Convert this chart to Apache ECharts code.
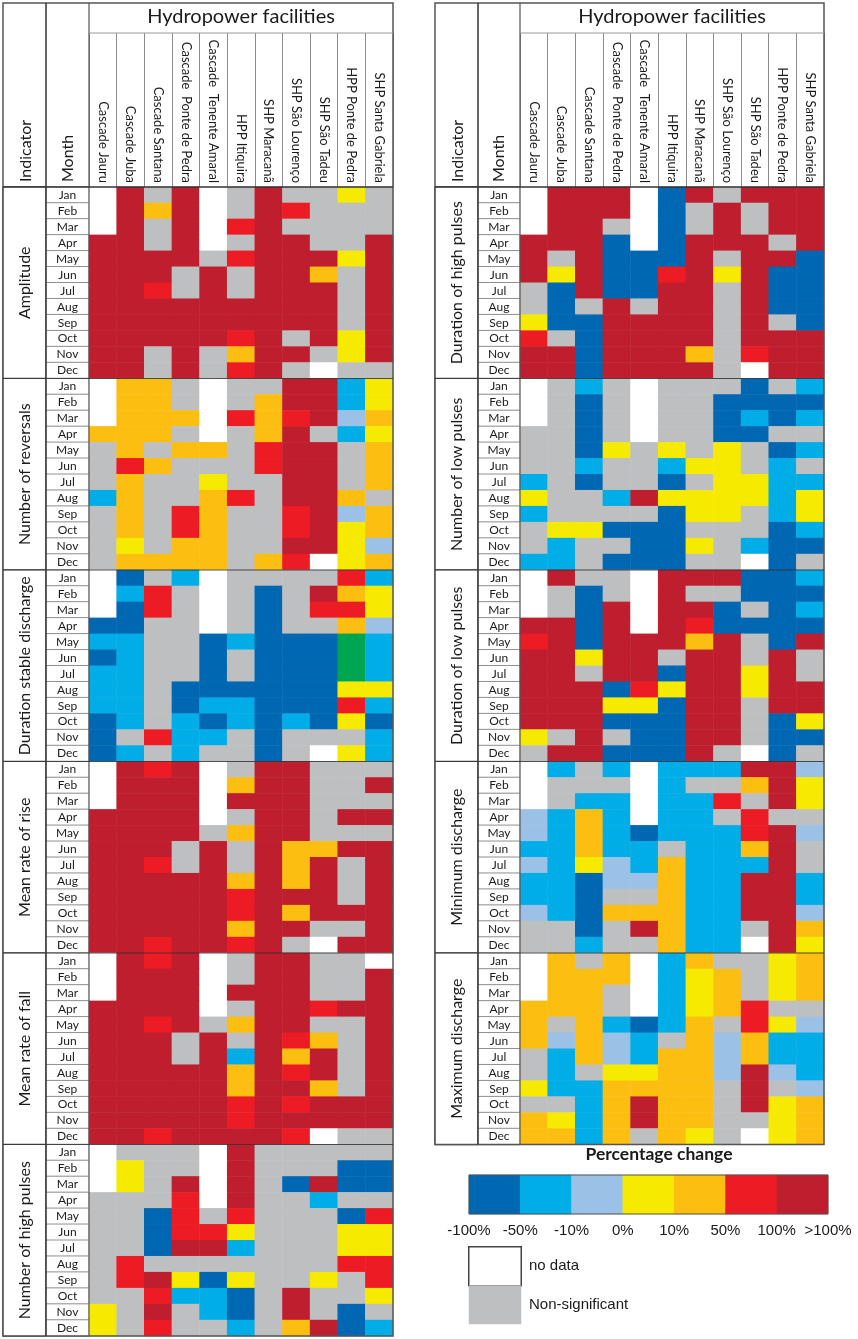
<!DOCTYPE html>
<html>
<head>
<meta charset="utf-8">
<title>Hydropower facilities - percentage change</title>
<script src="https://cdn.jsdelivr.net/npm/echarts@6/dist/echarts.min.js"></script>
<style>
  html, body { margin: 0; padding: 0; background: #fff; }
  #chart { width: 858px; height: 1339px; }
</style>
</head>
<body>
<div id="chart"></div>
<script>
var facilities = ['Cascade Jauru', 'Cascade Juba', 'Cascade Santana', 'Cascade  Ponte de Pedra',
  'Cascade  Tenente Amaral', 'HPP Itiquira', 'SHP Maracanã', 'SHP São Lourenço', 'SHP São Tadeu',
  'HPP Ponte de Pedra', 'SHP Santa Gabriela'];
var months = ['Jan', 'Feb', 'Mar', 'Apr', 'May', 'Jun', 'Jul', 'Aug', 'Sep', 'Oct', 'Nov', 'Dec'];

// one string per month, one letter per facility
// D=-100% B=-50% P=-10% Y=0% O=10% R=50% K=>100% W=no data G=non-significant N=green
var amplitude = ['WKGKWGKGGYG', 'WKOKWGKRGGG', 'WKGKWRKGGGG', 'KKGKWGKKGGK', 'KKKKGRKKKYK', 'KKKGKGKKOGK',
  'KKRGKGKKKGK', 'KKKKKKKKKGK', 'KKKKKKKKKGK', 'KKKKKRKGKYK', 'KKGKGOKKGYK', 'KKGKGRKGWGG'];
var reversals = ['WOOGWGGKKBY', 'WOOGWGOKKBY', 'WOOOWRORKPO', 'OOOGWGOKGBY', 'GOGOOGRKKGO', 'GROGGGRKKGO',
  'GOGGYGGKKGO', 'BOGGORGKKOG', 'GOGROGGRKPO', 'GOGROGGRKYO', 'GYGOOGGKKYP', 'GOOOOGORWYO'];
var stableDuration = ['WDGBWGGGGRB', 'WBRGWGDGKOY', 'WDRGWGDGRRY', 'DDGGWGDGGOP', 'BBGGDBDDDNB', 'DBGGDGDDDNB',
  'BBGGDGDDDNB', 'BBGDDDDDDYY', 'BBGDBBDDDRB', 'DBGBDBDBDYD', 'DGRBBGDGGGB', 'DBGBGGDGWYB'];
var riseRate = ['WKRKWGKKGGG', 'WKKKWOKKGGK', 'WKKKWKKKGGG', 'KKKKWGKKGKK', 'KKKKGOKKGGG', 'KKKGKGKOOKK',
  'KKRGKGKOKGK', 'KKKKKOKOKGK', 'KKKKKRKKKGK', 'KKKKKRKOKKK', 'KKKKKOKKGGK', 'KKRKKRKGWKK'];
var fallRate = ['WKRKWGKKGGW', 'WKKKWGKKGGK', 'WKKKWKKKGGK', 'KKKKWGKKRKK', 'KKRKGOKKGGK', 'KKKGKGKROGK',
  'KKKGKBKOKGK', 'KKKKKOKRKGK', 'KKKKKOKKOGK', 'KKKKKRKRKKK', 'KKKKKRKKKKK', 'KKRKKKKRWGG'];
var highPulseCount = ['WGGGWKGGGGG', 'WYGGWKGGGDD', 'WYGKWKGDKDD', 'GGGRWKGGBGG', 'GGDRGRGGGDR', 'GGDRRYGGGYY',
  'GGDKKBGGGYY', 'GRGGGGGGGRR', 'GRKYDYGGYGR', 'GGRBBDGKGGY', 'YGKGBDGKGDG', 'YGRGGBGOKDB'];

var highPulseDuration = ['WKKKWDKGKKK', 'WKKKWDGKGKK', 'WKKGWDGKGKK', 'KKKDWDKKKGK', 'KGKDDDKGKKD', 'KYKDDRKYKDD',
  'GDKDDKKGKDD', 'GDGKGKKGKDD', 'YDDKKKKGKGD', 'RGDKKKKGKKK', 'KKDKKKOGRKK', 'KKDKKKKGWKK'];
var lowPulseCount = ['WGBGWGGGDGB', 'WGDGWGGDDDD', 'WGDGWGGDBDB', 'GGDGWGGDDGG', 'GGDYGYGYGDB', 'GGBGGBYYGBG',
  'BGDGGDGYYBB', 'YGGBKYYYYBY', 'BGGGGDYYGBY', 'GYYDDDGGGDB', 'GBGGDDYGBDD', 'BBGDDDGGWDG'];
var lowPulseDuration = ['WKGGWKKKDDB', 'WGDGWKGGDDD', 'WGDKWKKDGDB', 'KKDKWKRDDDD', 'RKDKKKOKGDK', 'KKYKKGKKGKG',
  'KKGKKDKKYKG', 'KKKDRYKKYKK', 'KKKYYDKKGKK', 'KKKDDDKKGDY', 'YGKGDDKKGDD', 'GKKDDDKGWDG'];
var minDischarge = ['WBGBWBBBKKP', 'WGGGWBGGOKY', 'WGBBWBBRGKY', 'PBOBWBBGRGG', 'PBOBDBBBRKP', 'BBOBBGBBOKG',
  'PBYPBOBBBKG', 'BBDPPOBBKKB', 'BBDGGOBBKKB', 'PBDOOOBBKKP', 'GGDGKOBBGKO', 'GGBGGOBBWKY'];
var maxDischarge = ['WOGOWBOGGYO', 'WOOOWBYOGYO', 'WOOGWBYOGYO', 'OOOGWBYORGG', 'OGOBDBOGRYP', 'OPOPBGOPOBB',
  'GBOPBOOPOBB', 'GBGYYOOPKPB', 'YBBOOOOGKGP', 'GGBOKOOGKYO', 'OYBOKOOGGYO', 'OOBOGOYGWYO'];

var leftIndicators = ['Amplitude', 'Number of reversals', 'Duration stable discharge', 'Mean rate of rise',
  'Mean rate of fall', 'Number of high pulses'];
var leftBlocks = [amplitude, reversals, stableDuration, riseRate, fallRate, highPulseCount];
var rightIndicators = ['Duration of high pulses', 'Number of low pulses', 'Duration of low pulses',
  'Minimum discharge', 'Maximum discharge'];
var rightBlocks = [highPulseDuration, lowPulseCount, lowPulseDuration, minDischarge, maxDischarge];

var pctLabels = ['-100%', '-50%', '-10%', '0%', '10%', '50%', '100%', '>100%'];
var extraLabels = ['no data', 'Non-significant'];

var codeIndex = { D: 0, B: 1, P: 2, Y: 3, O: 4, R: 5, K: 6, W: 7, G: 8, N: 9 };
var palette = ['#0067b2', '#00ade6', '#9bc2e6', '#f6ea00', '#fdbe12', '#ed1c24', '#be1e2d',
  '#ffffff', '#bebfc1', '#00a551'];

var chart = echarts.init(document.getElementById('chart'));
var txt = '#1a1a1a';

// table geometry
var hdrLine = 33, dataTop = 187, blockH = 191.5, tableTop = 3;
var panels = [
  { x0: 3, xm: 46, xd: 89, x1: 393, names: leftIndicators, blocks: leftBlocks },
  { x0: 435, xm: 478, xd: 520, x1: 824, names: rightIndicators, blocks: rightBlocks }
];

var grid = [], xAxis = [], yAxis = [], series = [], graphic = [], title = [];

function line(x1, y1, x2, y2, color, w) {
  return { type: 'line', z: 20, silent: true, shape: { x1: x1, y1: y1, x2: x2, y2: y2 },
    style: { stroke: color, lineWidth: w } };
}
function vText(s, x, y) {
  return { type: 'text', z: 20, silent: true, x: x, y: y, rotation: Math.PI / 2,
    style: { text: s, font: '16px Lato', fill: txt, textAlign: 'left', textVerticalAlign: 'middle',
      align: 'left', verticalAlign: 'middle' } };
}

panels.forEach(function (p) {
  var n = p.names.length, h = n * blockH, bottom = dataTop + h;
  var g = grid.length;
  var rowIds = [];
  for (var i = 0; i < n * 12; i++) rowIds.push(String(i));

  grid.push({ left: p.x0, top: dataTop, width: p.xm - p.x0, height: h });
  grid.push({ left: p.xm, top: dataTop, width: p.xd - p.xm, height: h });
  grid.push({ left: p.xd, top: dataTop, width: p.x1 - p.xd, height: h });

  xAxis.push({ gridIndex: g, type: 'category', data: ['indicator'], show: false });
  xAxis.push({ gridIndex: g + 1, type: 'category', data: ['month'], show: false });
  xAxis.push({
    gridIndex: g + 2, type: 'category', data: facilities, position: 'top',
    axisLine: { show: false },
    axisTick: { show: true, interval: 0, length: dataTop - hdrLine, lineStyle: { color: '#8c8c8c', width: 1 } },
    axisLabel: { interval: 0, rotate: 90, margin: 4, fontFamily: 'Lato', fontSize: 13, color: txt },
    splitLine: { show: false }
  });
  yAxis.push({ gridIndex: g, type: 'category', data: p.names, inverse: true, show: false });
  yAxis.push({ gridIndex: g + 1, type: 'category', data: rowIds, inverse: true, show: false });
  yAxis.push({ gridIndex: g + 2, type: 'category', data: rowIds, inverse: true, show: false });

  series.push({
    type: 'heatmap', xAxisIndex: g, yAxisIndex: g, silent: true,
    data: p.names.map(function (nm, i) { return [0, i, 7]; }),
    itemStyle: { borderColor: '#444', borderWidth: 1 },
    label: { show: true, rotate: 90, fontFamily: 'Lato', fontSize: 16, color: txt,
      formatter: function (d) { return p.names[d.value[1]]; } }
  });
  series.push({
    type: 'heatmap', xAxisIndex: g + 1, yAxisIndex: g + 1, silent: true,
    data: rowIds.map(function (r, i) { return [0, i, 7]; }),
    itemStyle: { borderColor: '#909090', borderWidth: 1 },
    label: { show: true, fontFamily: 'Lato', fontSize: 12, color: txt,
      formatter: function (d) { return months[d.value[1] % 12]; } }
  });
  var cells = [];
  p.blocks.forEach(function (block, b) {
    block.forEach(function (row, m) {
      for (var c = 0; c < facilities.length; c++) cells.push([c, b * 12 + m, codeIndex[row.charAt(c)]]);
    });
  });
  series.push({ type: 'heatmap', xAxisIndex: g + 2, yAxisIndex: g + 2, silent: true, progressive: 0, data: cells });

  title.push({
    text: 'Hydropower facilities', left: (p.xd + p.x1) / 2, top: 7, padding: 0,
    textAlign: 'center', textVerticalAlign: 'top',
    textStyle: { fontFamily: 'Lato', fontSize: 20, fontWeight: 'normal', color: txt }
  });

  // table frame
  graphic.push({ type: 'rect', z: 20, silent: true,
    shape: { x: p.x0, y: tableTop, width: p.x1 - p.x0, height: bottom - tableTop },
    style: { fill: 'none', stroke: '#555', lineWidth: 1.5 } });
  graphic.push(line(p.xm, tableTop, p.xm, bottom, '#333', 1.5));
  graphic.push(line(p.xd, tableTop, p.xd, bottom, '#555', 1.2));
  graphic.push(line(p.xd, hdrLine, p.x1, hdrLine, '#999', 1.2));
  graphic.push(line(p.x0, dataTop, p.x1, dataTop, '#333', 1.5));
  for (var k = 1; k < n; k++) {
    graphic.push(line(p.x0, dataTop + k * blockH, p.x1, dataTop + k * blockH, 'rgba(50,50,50,0.85)', 1));
  }
  graphic.push(vText('Indicator', (p.x0 + p.xm) / 2 + 1, 182));
  graphic.push(vText('Month', (p.xm + p.xd) / 2, 182));
});

// legend: colour bar
var lg = grid.length;
grid.push({ left: 469, top: 1175, width: 359, height: 39 });
grid.push({ left: 469, top: 1247, width: 52, height: 77 });
xAxis.push({ gridIndex: lg, type: 'category', position: 'top', data: ['0', '1', '2', '3', '4', '5', '6'], show: false });
xAxis.push({
  gridIndex: lg, type: 'value', position: 'bottom', min: 0, max: 7, interval: 1,
  axisLine: { show: false }, axisTick: { show: false }, splitLine: { show: false },
  axisLabel: { margin: 9, fontFamily: 'Liberation Sans', fontSize: 15, color: txt,
    formatter: function (v) { return pctLabels[Math.round(v)]; } }
});
xAxis.push({ gridIndex: lg + 1, type: 'category', data: ['key'], show: false });
yAxis.push({ gridIndex: lg, type: 'category', data: ['bar'], show: false });
yAxis.push({
  gridIndex: lg + 1, type: 'category', data: extraLabels, inverse: true, position: 'right',
  axisLine: { show: false }, axisTick: { show: false },
  axisLabel: { margin: 8, fontFamily: 'Liberation Sans', fontSize: 15, color: txt }
});
var xa = xAxis.length, ya = yAxis.length;
series.push({
  type: 'heatmap', xAxisIndex: xa - 3, yAxisIndex: ya - 2, silent: true,
  data: [0, 1, 2, 3, 4, 5, 6].map(function (i) { return [i, 0, i]; })
});
series.push({
  type: 'heatmap', xAxisIndex: xa - 1, yAxisIndex: ya - 1, silent: true,
  data: [{ value: [0, 0, 7], itemStyle: { borderColor: '#444', borderWidth: 1.5 } }, [0, 1, 8]]
});
graphic.push({ type: 'rect', z: 20, silent: true, shape: { x: 469, y: 1175, width: 359, height: 39 },
  style: { fill: 'none', stroke: '#555', lineWidth: 1 } });

title.push({
  text: 'Percentage change', left: 659, top: 1145, padding: 0, textAlign: 'center', textVerticalAlign: 'top',
  textStyle: { fontFamily: 'Lato', fontSize: 17.5, fontWeight: 'bold', color: txt }
});

chart.setOption({
  animation: false,
  backgroundColor: '#fff',
  title: title,
  grid: grid,
  xAxis: xAxis,
  yAxis: yAxis,
  visualMap: {
    type: 'piecewise', show: false, dimension: 2,
    pieces: palette.map(function (c, i) { return { value: i, color: c }; })
  },
  series: series,
  graphic: graphic
});
</script>
</body>
</html>
